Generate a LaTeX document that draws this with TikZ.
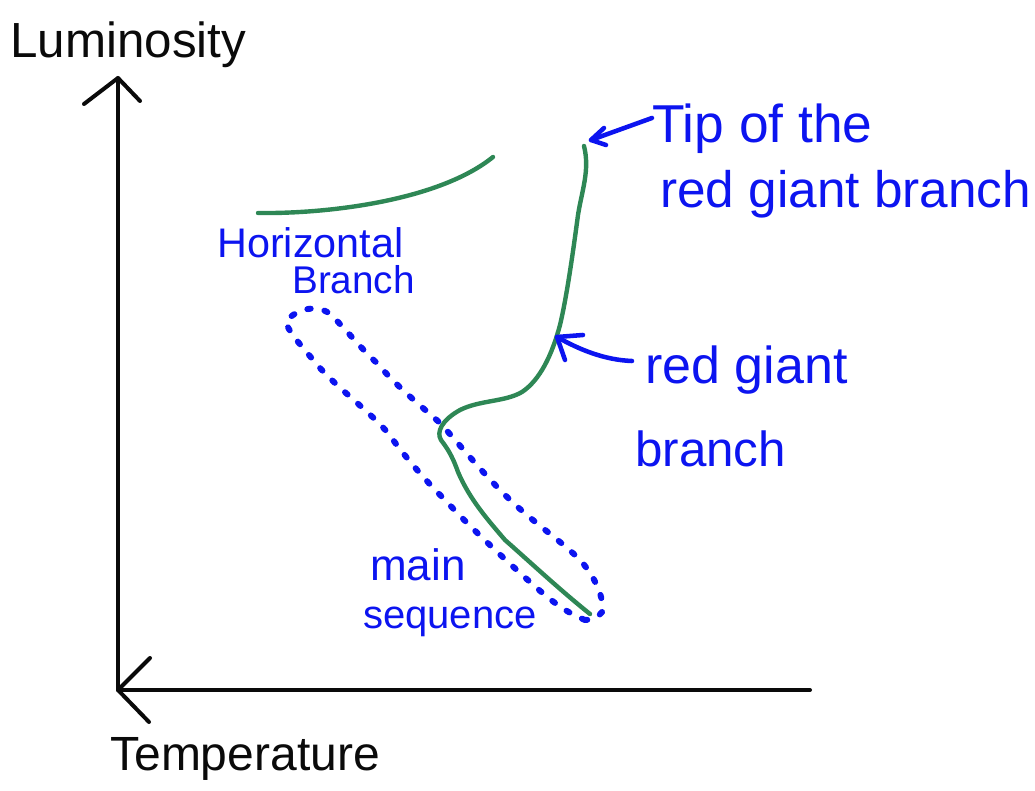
\documentclass[tikz,border=0pt]{standalone}
\usepackage{fontspec}
\setmainfont{Liberation Sans}
\definecolor{inkblue}{RGB}{12,20,240}
\definecolor{inkgreen}{RGB}{46,135,85}
\definecolor{inkblack}{RGB}{10,10,10}
\begin{document}
\begin{tikzpicture}[x=0.75pt,y=-0.75pt,
  axis/.style={inkblack,line width=3pt,line cap=round,line join=round},
  track/.style={inkgreen,line width=3.3pt,line cap=round,line join=round},
  pointer/.style={inkblue,line width=3.4pt,line cap=round,line join=round},
  band/.style={inkblue,line width=4.5pt,line cap=round,dash pattern=on 2.5pt off 10.5pt},
  axislabel/.style={inkblack,anchor=base west,inner sep=0pt},
  note/.style={inkblue,anchor=base west,inner sep=0pt}]
\useasboundingbox (0,0) rectangle (1035,791);

% axes
\coordinate (origin) at (118,690);
\coordinate (ytop) at (118,78);
\coordinate (xend) at (810,690);
\draw[axis] (origin) -- (ytop);
\draw[axis] (84,104) -- (ytop) -- (140,101);
\draw[axis] (origin) -- (xend);
\draw[axis] (150,658) -- (origin) -- (149,722);
\node[axislabel,font=\fontsize{37}{40}\selectfont] (lum) at (10,58) {Luminosity};
\node[axislabel,font=\fontsize{36}{40}\selectfont] (temp) at (110,770) {Temperature};

% main sequence band (dotted outline)
\draw[band] (585,620) .. controls (565,612) and (550,600) .. (530,582)
  .. controls (500,555) and (470,527) .. (445,500)
  .. controls (420,475) and (400,450) .. (388,433)
  .. controls (370,412) and (340,390) .. (320,368)
  .. controls (305,350) and (288,332) .. (286,322)
  .. controls (292,312) and (315,302) .. (330,314)
  .. controls (345,328) and (362,350) .. (378,364)
  .. controls (395,385) and (420,405) .. (440,423)
  .. controls (460,445) and (480,470) .. (505,495)
  .. controls (530,520) and (560,540) .. (578,558)
  .. controls (595,575) and (605,600) .. (602,612)
  .. controls (598,618) and (592,620) .. (585,620);

% horizontal branch
\coordinate (hb1) at (258,213);
\coordinate (hb2) at (493,157);
\draw[track] (hb1) .. controls (330,214) and (440,200) .. (hb2);

% red giant branch and main sequence track
\coordinate (rgbtip) at (584,146);
\coordinate (turnoff) at (441,440);
\coordinate (msend) at (590,614);
\draw[track] (rgbtip) .. controls (590,170) and (582,190) .. (578,215)
  .. controls (572,260) and (566,300) .. (560,325)
  .. controls (552,355) and (540,380) .. (522,392)
  .. controls (505,402) and (480,400) .. (460,410)
  .. controls (442,420) and (436,432) .. (turnoff)
  .. controls (447,448) and (452,455) .. (458,472)
  .. controls (470,500) and (488,520) .. (505,540)
  .. controls (530,562) and (560,590) .. (msend);

% labels
\node[note,font=\fontsize{40}{44}\selectfont] (tipa) at (652,143) {Tip of the};
\node[note,font=\fontsize{38.5}{44}\selectfont] (tipb) at (660,208) {red giant branch};
\node[note,font=\fontsize{39}{44}\selectfont] (rgba) at (645,383) {red giant};
\node[note,font=\fontsize{37}{44}\selectfont] (rgbb) at (635,466) {branch};
\node[note,text depth=0pt,font=\fontsize{31}{36}\selectfont] (hba) at (217,258) {Horizontal};
\node[note,font=\fontsize{29}{36}\selectfont] (hbb) at (292,294) {Branch};
\node[note,text depth=0pt,font=\fontsize{33}{36}\selectfont] (msa) at (370,580) {main};
\node[note,font=\fontsize{30}{36}\selectfont] (msb) at (363,628) {sequence};

% pointers from labels to the track
\coordinate (tiptail) at (652,118);
\coordinate (tiphead) at (591,140);
\draw[pointer] (tiptail) -- (tiphead);
\draw[pointer] (604,128) -- (tiphead) -- (606,145);
\coordinate (rgbtail) at (632,361);
\coordinate (rgbhead) at (557,337);
\draw[pointer] (rgbtail) .. controls (605,360) and (580,350) .. (rgbhead);
\draw[pointer] (583,335) -- (rgbhead) -- (565,360);
\end{tikzpicture}
\end{document}
